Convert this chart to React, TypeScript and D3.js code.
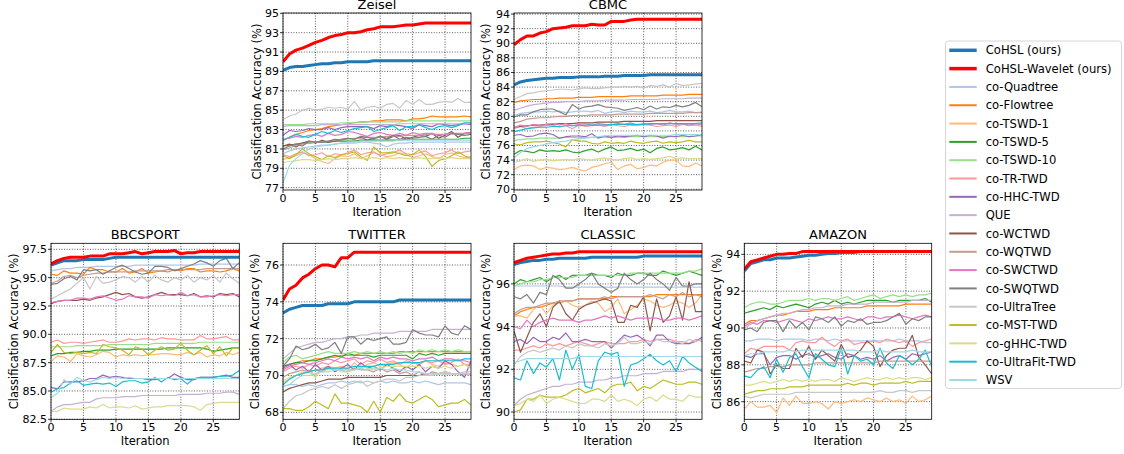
import React from "react";
import * as d3 from "d3";

const SERIES = [
  "CoHSL (ours)", "CoHSL-Wavelet (ours)", "co-Quadtree", "co-Flowtree", "co-TSWD-1", "co-TSWD-5",
  "co-TSWD-10", "co-TR-TWD", "co-HHC-TWD", "QUE", "co-WCTWD", "co-WQTWD", "co-SWCTWD", "co-SWQTWD",
  "co-UltraTree", "co-MST-TWD", "co-gHHC-TWD", "co-UltraFit-TWD", "WSV",
];
const COLORS = [
  "#1f77b4", "#ff0000", "#aec7e8", "#ff7f0e", "#ffbb78", "#2ca02c", "#98df8a", "#ff9896", "#9467bd",
  "#c5b0d5", "#8c564b", "#c49c94", "#e377c2", "#7f7f7f", "#c7c7c7", "#bcbd22", "#dbdb8d", "#17becf", "#9edae5",
];
const ITERATIONS = d3.range(30);
const X_TICKS = [0, 5, 10, 15, 20, 25];

const zeisel: number[][] = [
  [89.1,89.4,89.5,89.5,89.6,89.7,89.8,89.8,89.9,89.9,90.0,90.0,90.0,90.0,90.1,90.1,90.1,90.1,90.1,90.1,90.1,90.1,90.1,90.1,90.1,90.1,90.1,90.1,90.1,90.1],
  [90.0,90.8,91.2,91.4,91.7,92.0,92.2,92.5,92.7,92.8,93.0,93.0,93.1,93.3,93.4,93.6,93.6,93.6,93.7,93.8,93.8,93.9,94.0,94.0,94.0,94.0,94.0,94.0,94.0,94.0],
  [80.5,80.8,81.0,81.1,81.2,81.3,81.4,81.4,81.5,81.6,81.6,81.6,81.7,81.7,81.6,81.5,81.2,81.5,81.6,81.6,81.7,81.7,81.7,81.7,81.7,81.7,81.7,81.7,81.7,81.7],
  [81.9,82.2,82.5,82.7,82.9,83.0,83.1,83.3,83.4,83.5,83.6,83.7,83.8,83.8,83.9,83.9,84.0,84.0,84.0,83.9,84.1,84.1,84.2,84.4,84.3,84.3,84.3,84.3,84.4,84.3],
  [79.9,80.1,80.3,80.6,80.4,80.0,79.7,79.5,80.0,80.3,80.2,80.5,80.0,80.3,80.6,80.4,80.2,80.3,80.6,80.4,80.1,80.3,80.5,80.2,80.0,80.4,80.6,80.3,80.1,80.2],
  [81.3,81.4,81.5,81.6,81.6,81.7,81.7,81.7,81.8,81.8,81.8,81.8,81.9,81.9,81.9,81.9,81.9,81.9,81.9,82.0,82.0,82.0,82.0,82.0,82.0,82.0,82.0,82.0,82.1,82.1],
  [83.5,83.5,83.5,83.5,83.6,83.6,83.6,83.6,83.6,83.7,83.7,83.7,83.7,83.8,83.8,83.8,83.8,83.8,83.8,83.9,83.9,83.9,83.9,83.9,83.9,83.9,83.9,83.9,83.9,83.9],
  [80.4,80.2,80.5,80.7,80.3,80.4,80.6,80.2,80.5,80.4,80.6,80.9,80.4,80.6,80.7,80.3,80.5,80.6,80.9,80.5,80.4,80.6,80.8,80.3,80.5,80.6,80.9,80.5,80.7,80.8],
  [82.4,82.9,82.8,82.9,83.1,83.0,83.0,83.2,83.0,83.2,83.3,83.3,83.3,83.3,83.1,83.4,83.3,83.5,83.4,83.3,83.1,83.5,83.4,83.3,83.6,83.5,83.4,83.5,83.6,83.5],
  [83.3,83.4,83.4,83.4,83.4,83.4,83.5,83.5,83.5,83.5,83.5,83.5,83.5,83.5,83.5,83.5,83.5,83.5,83.6,83.6,83.6,83.6,83.6,83.6,83.6,83.6,83.6,83.6,83.6,83.6],
  [81.3,81.5,81.2,81.6,81.8,81.6,81.9,81.7,81.8,82.0,82.1,82.0,82.2,81.9,82.1,82.3,82.0,82.3,82.4,82.0,82.2,82.4,82.3,82.6,82.1,82.4,82.8,82.2,82.6,82.7],
  [80.9,81.1,81.4,81.5,81.6,81.7,81.7,81.8,81.9,82.0,82.0,82.1,82.1,82.2,82.2,82.2,82.3,82.3,82.3,82.4,82.4,82.4,82.5,82.5,82.5,82.5,82.6,82.6,82.6,82.6],
  [82.0,82.1,82.3,82.2,82.4,82.5,82.3,82.6,82.4,82.5,82.8,82.7,82.5,82.3,82.6,82.7,82.5,82.4,82.6,82.4,82.7,82.5,82.6,82.6,82.4,82.5,82.6,82.5,82.6,82.7],
  [81.0,81.3,81.5,81.3,81.8,81.7,81.7,81.8,82.0,81.9,82.1,82.0,82.3,82.2,82.0,82.3,82.1,82.4,82.0,82.2,82.1,82.2,82.3,82.0,82.4,82.2,82.6,82.5,82.4,82.5],
  [84.0,84.4,84.6,85.0,85.2,85.0,85.1,85.3,85.2,85.3,85.1,85.9,85.0,85.3,85.4,85.2,85.6,85.7,85.2,86.0,85.6,86.1,85.6,85.6,85.8,85.9,85.8,86.2,85.8,85.8],
  [80.3,80.0,80.4,81.0,80.5,80.2,79.9,80.3,80.1,80.4,80.5,80.7,80.2,79.8,81.2,80.6,80.6,80.7,80.5,80.3,80.4,80.9,80.2,79.2,79.8,80.0,80.3,80.7,80.3,80.0],
  [79.6,79.7,79.8,79.9,79.9,79.8,79.9,80.0,79.9,80.0,80.0,80.1,80.0,80.0,80.1,80.0,80.1,80.0,80.1,80.0,80.0,80.1,80.0,80.0,80.1,80.0,80.1,80.0,80.0,80.0],
  [81.9,82.2,82.5,82.3,82.2,82.5,82.8,82.6,82.9,82.7,82.9,83.1,83.2,83.3,82.8,83.0,83.2,83.4,82.9,83.3,83.3,83.5,83.2,83.0,83.3,83.4,83.2,83.4,83.7,83.7],
  [77.5,79.3,80.0,80.5,81.0,81.2,81.3,81.4,81.5,81.6,81.7,81.7,81.8,81.8,81.8,81.8,81.8,81.8,81.9,81.9,81.9,81.9,81.9,81.9,81.9,81.9,81.9,81.9,81.9,81.9],
];

const cbmc: number[][] = [
  [84.3,84.7,84.9,85.0,85.1,85.2,85.2,85.3,85.3,85.3,85.4,85.4,85.4,85.4,85.5,85.5,85.5,85.6,85.6,85.6,85.6,85.7,85.7,85.7,85.7,85.7,85.7,85.7,85.7,85.7],
  [89.8,90.5,91.0,91.0,91.4,91.6,92.0,92.1,92.2,92.4,92.4,92.4,92.6,92.5,92.5,93.0,93.0,93.0,93.2,93.3,93.3,93.3,93.3,93.3,93.3,93.3,93.3,93.3,93.3,93.3],
  [80.1,80.4,80.5,80.6,80.6,80.7,80.6,80.7,80.5,80.6,80.7,80.7,80.6,80.8,80.4,80.6,80.7,80.5,80.7,80.6,80.6,80.7,80.5,80.6,80.8,80.6,80.6,80.7,80.5,80.6],
  [81.9,82.1,82.2,82.3,82.3,82.4,82.4,82.5,82.5,82.5,82.6,82.6,82.6,82.7,82.7,82.7,82.7,82.7,82.8,82.8,82.8,82.8,82.8,82.9,82.9,82.9,82.9,83.0,83.0,83.0],
  [72.7,73.2,73.3,73.2,72.7,73.0,72.9,72.7,72.8,73.0,72.7,72.5,73.0,73.2,73.5,73.7,72.7,73.2,73.4,72.8,73.0,73.3,73.2,73.7,74.0,74.0,73.2,73.1,73.6,73.2],
  [74.8,75.3,75.2,75.0,75.4,75.2,75.3,75.2,75.4,75.1,75.0,75.3,75.5,75.1,75.5,75.8,75.3,75.4,75.6,75.3,75.5,75.0,75.6,75.8,75.4,75.5,75.7,75.4,75.9,75.4],
  [76.7,76.8,76.9,76.9,77.0,77.0,77.0,77.0,77.1,77.1,77.1,77.1,77.1,77.1,77.1,77.1,77.1,77.1,77.2,77.2,77.2,77.2,77.2,77.2,77.2,77.2,77.2,77.2,77.3,77.3],
  [78.3,78.6,78.3,78.5,78.6,78.7,78.8,78.5,78.7,78.3,78.8,78.6,78.7,78.8,78.6,78.9,78.7,78.6,78.8,78.7,78.9,78.8,78.6,78.7,78.8,78.6,78.9,78.7,78.8,78.6],
  [77.4,77.5,77.2,77.3,77.6,77.7,77.5,77.0,77.2,77.3,77.3,77.2,77.6,77.0,77.3,77.1,77.3,77.2,77.3,77.4,77.2,77.4,77.3,77.0,77.3,77.2,77.4,77.2,77.3,77.5],
  [80.8,81.1,81.4,81.6,81.7,81.8,81.9,81.9,82.0,82.0,82.0,82.1,82.1,82.1,82.2,82.2,82.2,82.2,82.3,82.3,82.3,82.3,82.3,82.4,82.4,82.4,82.4,82.5,82.5,82.5],
  [78.5,78.6,78.7,78.8,78.8,78.9,78.9,79.0,79.0,79.0,79.1,79.1,79.1,79.2,79.2,79.2,79.2,79.3,79.3,79.3,79.3,79.3,79.4,79.4,79.4,79.4,79.4,79.4,79.4,79.4],
  [79.1,79.3,79.6,79.7,79.8,79.8,79.9,80.0,80.0,80.1,80.1,80.1,80.2,80.2,80.2,80.2,80.3,80.3,80.3,80.3,80.3,80.4,80.4,80.4,80.4,80.4,80.4,80.5,80.5,80.5],
  [78.4,78.8,78.6,78.9,78.7,78.9,79.0,78.8,79.0,78.7,78.9,79.0,78.8,79.0,78.9,78.8,79.0,78.9,79.1,78.8,79.0,78.9,79.0,78.8,79.1,78.9,79.0,78.8,79.0,78.8],
  [79.9,80.2,80.2,80.6,80.9,81.0,81.0,80.6,80.2,81.6,81.0,81.3,81.4,81.6,81.3,81.2,81.1,80.8,81.0,81.2,80.9,81.4,81.0,81.3,81.2,81.5,81.3,81.5,81.9,81.3],
  [82.3,82.7,83.1,83.2,83.4,83.5,83.6,83.7,83.7,83.6,83.8,83.9,83.8,83.8,83.9,84.0,84.0,84.1,84.0,84.1,83.9,84.2,84.1,84.3,84.0,84.5,84.2,84.3,84.4,84.5],
  [76.2,76.1,76.4,76.5,76.5,76.6,76.4,76.2,75.8,76.8,76.6,76.6,76.3,76.2,76.5,76.3,76.4,76.3,76.6,76.4,76.3,76.5,76.6,76.3,76.5,76.4,76.5,76.7,76.5,76.5],
  [73.7,73.9,74.2,73.8,74.0,74.1,73.9,74.0,74.1,74.0,74.2,74.1,74.0,74.2,74.3,74.1,74.0,74.2,74.3,74.1,74.2,74.1,74.2,74.3,74.5,74.2,74.3,74.2,74.2,74.2],
  [77.9,78.1,78.3,78.4,78.5,78.5,78.6,78.6,78.7,78.7,78.7,78.8,78.8,78.8,78.8,78.9,78.9,78.9,78.9,78.9,78.9,79.0,79.0,79.0,79.0,79.0,79.0,79.0,79.0,79.1],
  [74.3,75.0,75.6,75.8,76.0,76.2,76.4,76.5,76.6,76.8,76.9,77.0,77.1,77.2,77.3,77.4,77.4,77.4,77.4,77.4,77.4,77.4,77.4,77.4,77.4,77.5,77.5,77.5,77.5,77.5],
];

const bbcsport: number[][] = [
  [96.1,96.3,96.5,96.5,96.5,96.6,96.6,96.6,96.6,96.7,96.8,96.8,96.8,96.8,96.8,96.8,96.8,96.8,96.8,96.8,96.8,96.8,96.8,96.8,96.8,96.8,96.8,96.8,96.8,96.8],
  [96.2,96.5,96.7,96.8,96.8,96.8,96.9,96.9,96.9,97.1,97.1,97.1,97.2,97.3,97.1,97.2,97.3,97.3,97.3,97.4,97.1,97.2,97.2,97.3,97.3,97.3,97.3,97.3,97.3,97.3],
  [95.6,95.7,95.8,95.8,95.9,95.9,95.9,96.0,96.0,96.0,96.0,96.0,96.0,96.1,96.1,96.1,96.1,96.1,96.1,96.1,96.1,96.1,96.1,96.2,96.2,96.2,96.2,96.2,96.2,96.2],
  [95.3,95.2,95.6,95.4,95.4,95.3,95.9,95.7,95.7,95.5,95.5,95.8,95.4,95.5,95.8,95.4,95.5,95.6,95.5,95.7,95.6,95.8,95.8,95.5,95.6,95.6,95.5,95.6,95.8,95.6],
  [87.6,88.1,88.0,87.6,88.3,88.1,88.0,88.2,88.5,88.4,88.0,88.2,88.1,88.2,88.1,88.2,88.2,88.3,88.3,88.2,88.2,88.4,88.2,88.4,88.0,88.2,88.1,88.4,88.2,88.4],
  [88.1,88.3,88.3,88.4,88.4,88.5,88.5,88.6,88.6,88.6,88.7,88.7,88.7,88.7,88.7,88.7,88.7,88.7,88.8,88.8,88.8,88.8,88.8,88.8,88.7,88.5,88.6,88.7,88.8,88.8],
  [88.9,88.9,88.9,88.9,89.0,89.0,89.0,89.0,89.0,89.1,89.1,89.1,89.1,89.1,89.1,89.1,89.2,89.2,89.2,89.2,89.2,89.2,89.2,89.3,89.3,89.3,89.3,89.3,89.3,89.3],
  [89.3,89.5,89.2,89.3,89.3,89.2,89.3,89.4,89.5,89.3,89.3,89.4,89.6,89.5,89.6,89.6,89.5,89.7,89.6,89.6,89.5,89.5,89.5,89.9,89.6,89.6,89.7,89.8,89.5,89.5],
  [85.3,85.2,85.8,85.8,85.8,85.9,86.1,86.1,86.4,86.2,86.3,86.2,86.1,86.1,86.1,86.0,86.0,86.1,86.1,86.5,86.2,86.0,86.0,86.2,86.2,86.2,86.3,86.4,86.2,86.2],
  [83.2,83.6,83.8,83.8,83.9,84.0,84.0,84.3,84.4,84.4,84.4,84.5,84.5,84.5,84.6,84.6,84.6,84.6,84.6,84.6,84.7,84.7,84.7,84.7,84.8,84.8,84.8,84.9,84.9,84.7],
  [92.7,92.9,93.0,93.0,93.0,93.1,93.0,93.2,93.3,93.5,93.7,93.5,93.6,93.3,93.2,93.3,93.5,93.7,93.5,93.5,93.5,93.4,93.6,93.3,93.4,93.3,93.6,93.5,93.6,93.3],
  [94.5,94.7,95.1,95.2,95.0,95.2,95.3,95.4,95.4,95.5,95.5,95.5,95.5,95.6,95.6,95.6,95.6,95.6,95.7,95.7,95.7,95.7,95.7,95.7,95.8,95.8,95.8,95.8,95.8,95.8],
  [92.8,92.9,93.0,93.0,93.2,93.2,93.1,93.3,93.4,93.2,93.0,93.1,93.4,93.3,93.3,93.2,93.5,93.4,93.5,93.4,93.7,93.4,93.5,93.3,93.3,93.4,93.5,93.4,93.5,93.5],
  [94.4,94.5,94.9,95.1,94.8,95.7,95.6,95.7,95.3,95.6,95.9,96.1,95.8,95.5,95.3,95.4,96.0,96.0,95.9,95.6,95.8,96.0,96.2,96.5,96.3,96.0,96.5,96.7,95.8,96.3],
  [93.1,93.4,93.7,94.0,94.5,95.0,94.0,95.1,94.5,94.6,94.8,95.1,95.0,94.6,95.1,94.6,95.2,94.8,94.6,95.0,94.8,95.2,94.6,95.0,94.8,95.2,94.6,95.4,94.9,94.5],
  [88.4,89.1,88.4,88.3,88.4,88.3,88.4,88.3,89.1,88.9,88.8,88.6,88.2,88.9,88.7,88.2,88.6,88.9,88.6,88.7,89.2,88.6,88.2,88.6,89.0,88.3,88.9,88.1,88.8,88.8],
  [83.2,83.2,83.5,83.4,83.4,83.4,83.6,83.5,83.8,83.5,83.6,83.6,83.5,83.7,83.4,83.5,83.6,83.6,83.7,83.7,83.7,83.7,83.6,83.3,83.8,83.9,84.0,84.0,84.0,84.0],
  [84.9,85.2,85.3,85.7,85.9,85.5,85.6,85.7,85.6,85.7,85.4,85.8,85.9,85.9,85.7,85.8,86.2,85.8,86.2,86.0,86.1,85.6,86.1,86.2,86.2,86.2,86.3,86.3,86.4,86.8],
  [84.4,84.8,86.0,85.6,86.2,85.9,85.8,86.0,86.2,86.1,86.2,86.1,86.2,86.1,86.1,86.1,86.1,86.1,86.1,86.1,86.1,86.1,86.1,86.1,86.1,86.1,86.1,86.1,86.1,86.1],
];

const twitter: number[][] = [
  [73.4,73.6,73.7,73.8,73.8,73.8,73.8,73.9,73.9,73.9,73.9,74.0,74.0,74.0,74.0,74.0,74.0,74.0,74.1,74.1,74.1,74.1,74.1,74.1,74.1,74.1,74.1,74.1,74.1,74.1],
  [74.1,74.7,74.9,75.3,75.5,75.8,76.0,76.0,75.9,76.4,76.4,76.7,76.7,76.7,76.7,76.7,76.7,76.7,76.7,76.7,76.7,76.7,76.7,76.7,76.7,76.7,76.7,76.7,76.7,76.7],
  [69.4,69.5,69.5,69.4,69.5,69.4,69.5,69.6,69.6,69.7,69.6,69.7,69.6,69.7,69.6,69.7,69.6,69.7,69.6,69.6,69.7,69.6,69.7,69.6,69.5,69.6,69.6,69.6,69.6,69.5],
  [70.5,70.6,70.7,70.8,70.8,70.9,70.9,71.0,71.0,71.1,71.1,71.1,71.2,71.2,71.2,71.2,71.2,71.2,71.3,71.3,71.3,71.3,71.3,71.3,71.3,71.3,71.3,71.3,71.3,71.3],
  [69.6,69.8,70.0,70.1,70.3,70.0,70.4,70.5,70.4,70.5,70.3,70.7,70.4,70.6,70.7,70.5,70.6,70.7,70.6,70.4,70.7,70.6,70.8,70.6,70.5,70.7,70.6,70.5,70.6,70.6],
  [70.5,70.6,70.7,70.7,70.8,70.8,70.9,71.0,71.1,71.0,71.2,71.1,71.1,71.1,71.0,71.1,71.1,71.1,71.1,71.1,70.9,71.2,71.1,71.2,71.1,71.2,71.2,71.2,71.2,71.2],
  [70.7,71.0,71.1,70.9,71.0,71.1,71.2,71.3,71.2,71.2,71.2,71.3,71.2,71.3,71.2,71.3,71.2,71.3,71.2,71.3,71.2,71.4,71.3,71.4,71.3,71.4,71.3,71.4,71.3,71.3],
  [70.2,70.4,70.5,70.4,70.6,70.5,70.7,70.6,70.8,70.7,70.8,70.9,70.6,70.8,70.7,70.9,70.7,70.8,70.6,70.8,70.7,70.6,70.8,70.7,70.8,70.6,70.7,70.9,70.6,70.5],
  [70.4,70.6,70.3,70.5,70.2,70.6,70.3,70.5,70.2,70.4,70.6,70.3,70.7,70.4,70.5,70.3,70.6,70.4,70.2,70.5,70.3,70.6,70.2,70.5,70.4,70.8,70.6,70.2,69.9,70.8],
  [70.9,71.2,71.5,71.6,71.7,71.8,71.8,71.9,72.0,72.0,72.1,72.1,72.2,72.2,72.3,72.3,72.3,72.3,72.4,72.4,72.4,72.4,72.4,72.5,72.5,72.5,72.5,72.5,72.5,72.5],
  [69.1,69.3,69.4,69.5,69.6,69.6,69.7,69.8,69.8,69.8,69.9,69.9,69.9,69.9,69.9,69.9,70.0,70.0,70.0,70.0,70.0,70.0,70.1,70.1,70.1,70.1,70.1,70.1,70.1,70.1],
  [69.9,70.1,70.2,70.3,70.2,70.3,70.2,70.4,70.3,70.3,70.2,70.4,70.3,70.3,70.2,70.4,70.2,70.3,70.1,70.2,70.0,70.2,70.0,70.2,70.1,70.2,70.1,70.1,70.1,70.1],
  [70.3,70.5,70.6,70.7,70.6,70.7,70.8,70.9,70.8,71.0,70.9,71.0,70.9,71.0,70.8,71.0,70.9,71.0,70.9,70.9,70.8,70.9,70.9,71.0,70.8,70.9,70.9,70.8,70.8,70.7],
  [70.5,70.9,71.6,71.4,71.5,71.7,71.4,71.5,71.8,71.2,72.1,72.1,71.7,72.0,71.9,72.0,72.1,71.7,71.7,71.8,72.5,72.3,72.2,72.2,72.1,72.7,72.3,72.2,72.7,72.5],
  [68.2,68.6,68.9,69.0,69.2,69.3,69.4,69.3,69.5,69.3,69.5,69.6,69.7,69.4,69.6,69.7,69.8,69.8,69.7,69.9,69.9,70.0,70.0,70.0,70.1,70.2,70.1,70.1,70.2,70.2],
  [68.2,68.2,68.1,68.1,68.3,68.6,68.4,68.2,69.0,68.5,68.5,68.4,68.3,68.0,68.6,68.0,68.8,68.6,69.0,68.6,68.5,68.7,68.9,68.7,68.3,68.4,68.5,68.5,68.7,68.4],
  [69.7,69.9,70.0,70.2,70.2,69.9,70.3,70.3,70.4,70.2,70.2,70.3,70.5,70.4,70.3,70.4,70.5,70.5,70.5,70.5,70.5,70.5,70.4,70.5,70.4,70.5,70.4,70.5,70.6,70.4],
  [69.5,69.8,70.0,70.1,70.2,70.3,70.3,70.4,70.4,70.4,70.4,70.5,70.5,70.5,70.5,70.6,70.6,70.6,70.7,70.7,70.7,70.7,70.8,70.8,70.8,70.8,70.8,70.8,70.9,70.9],
  [69.4,69.5,69.8,70.0,70.0,70.1,70.2,70.2,70.3,70.3,70.3,70.3,70.4,70.3,70.4,70.4,70.3,70.4,70.3,70.3,70.2,70.2,70.1,70.1,70.1,70.1,70.1,70.1,70.1,70.1],
];

const classic: number[][] = [
  [96.9,97.0,97.05,97.1,97.1,97.15,97.15,97.2,97.2,97.2,97.2,97.2,97.25,97.25,97.25,97.25,97.25,97.25,97.25,97.25,97.3,97.3,97.3,97.3,97.3,97.3,97.3,97.3,97.3,97.3],
  [97.0,97.1,97.2,97.25,97.3,97.35,97.4,97.4,97.45,97.45,97.5,97.5,97.5,97.5,97.5,97.5,97.5,97.5,97.5,97.5,97.5,97.5,97.5,97.5,97.5,97.5,97.5,97.5,97.5,97.5],
  [95.9,95.9,95.9,95.9,95.9,95.9,95.9,95.9,95.85,95.85,95.85,95.85,95.85,95.85,95.85,95.85,95.85,95.85,95.85,95.85,95.85,95.85,95.85,95.85,95.85,95.85,95.85,95.85,95.85,95.85],
  [94.5,94.7,94.8,94.9,94.9,95.0,95.1,95.1,95.2,95.2,95.3,95.3,95.3,95.3,95.3,95.4,95.4,95.4,95.4,95.4,95.4,95.4,95.5,95.5,95.5,95.5,95.5,95.5,95.5,95.5],
  [94.5,94.5,94.4,94.8,95.0,94.6,95.0,95.1,95.2,95.0,94.9,95.0,95.2,95.1,94.7,94.9,95.3,94.6,94.8,95.0,95.3,95.2,95.0,94.9,95.0,95.2,95.1,94.9,95.1,95.5],
  [96.0,96.2,96.1,96.2,96.3,96.1,96.3,96.4,96.2,96.4,96.4,96.4,96.5,96.4,96.4,96.3,96.5,96.4,96.4,96.5,96.5,96.4,96.4,96.6,96.5,96.4,96.5,96.6,96.5,96.4],
  [95.9,96.0,96.1,96.1,96.2,96.2,96.3,96.3,96.3,96.3,96.4,96.4,96.4,96.4,96.4,96.4,96.4,96.4,96.5,96.5,96.5,96.5,96.5,96.5,96.5,96.5,96.5,96.6,96.6,96.7],
  [92.9,92.9,93.0,93.1,93.0,93.2,93.1,93.2,93.1,93.2,93.3,93.2,93.1,93.2,93.3,93.2,93.2,93.2,93.3,93.3,93.4,93.3,93.4,93.4,93.4,93.3,93.3,93.2,93.4,93.3],
  [93.3,93.4,93.2,93.5,93.3,93.3,93.5,93.4,93.7,93.3,93.3,93.4,93.3,93.3,93.3,93.0,93.3,93.6,93.5,93.6,93.4,93.1,93.6,93.6,93.3,93.2,93.2,93.2,93.3,93.5],
  [90.3,90.6,90.8,90.9,91.0,91.1,91.2,91.2,91.3,91.3,91.4,91.4,91.4,91.5,91.5,91.6,91.6,91.7,91.7,91.7,91.8,91.8,91.8,91.9,91.9,91.9,91.9,92.0,92.0,92.0],
  [93.8,92.8,93.5,94.2,94.6,94.0,94.9,95.2,94.6,94.3,94.8,95.0,95.1,95.2,95.3,95.2,94.2,94.2,95.0,94.9,95.4,93.8,95.3,94.2,94.5,95.4,94.3,96.1,94.7,94.7],
  [94.6,94.8,94.9,94.9,95.0,95.1,95.1,95.2,95.2,95.2,95.3,95.3,95.3,95.3,95.4,95.3,95.4,95.4,95.4,95.4,95.4,95.5,95.4,95.3,95.5,95.4,95.6,95.4,95.5,95.4],
  [94.0,93.9,94.3,94.0,94.2,94.3,94.4,94.3,94.3,94.3,94.2,94.3,94.3,94.4,94.5,94.4,94.5,94.4,94.3,94.4,94.4,94.4,94.4,94.3,94.3,94.4,94.4,94.3,94.4,94.5],
  [95.4,95.3,95.5,95.1,95.6,95.5,96.4,96.2,95.8,95.8,96.0,96.2,96.5,96.0,95.8,95.6,95.8,96.5,96.2,96.0,96.2,96.5,96.2,96.0,95.7,96.3,95.9,95.9,96.0,96.0],
  [92.2,92.6,92.8,92.9,92.8,92.9,93.0,92.9,93.1,93.0,93.2,93.1,93.1,93.0,93.2,93.1,93.2,93.5,93.2,93.2,93.3,93.2,93.4,93.3,93.3,93.3,93.2,93.4,93.3,93.4],
  [90.0,90.1,90.6,90.6,90.8,90.7,90.7,90.7,90.8,91.0,91.1,90.9,91.0,91.1,90.9,91.2,91.3,91.3,91.4,91.0,91.2,91.1,91.3,91.5,91.4,91.3,91.3,91.4,91.4,91.3],
  [90.3,90.4,90.6,90.5,90.8,90.4,90.6,90.7,90.6,90.5,90.4,90.4,90.6,90.6,90.5,90.8,90.5,90.6,90.5,90.3,90.6,90.7,90.5,90.8,90.6,90.6,90.5,90.8,90.7,90.7],
  [91.6,91.5,92.4,91.8,92.3,92.1,92.5,91.5,92.9,92.0,92.7,91.2,91.1,92.4,92.8,92.7,92.8,91.2,92.2,92.3,92.5,92.7,92.4,92.2,92.4,91.9,92.6,92.3,92.1,91.9],
  [92.3,92.4,92.5,92.5,92.5,92.5,92.5,92.5,92.5,92.5,92.6,92.6,92.6,92.6,92.6,92.6,92.6,92.6,92.6,92.6,92.6,92.6,92.6,92.6,92.6,92.6,92.6,92.6,92.6,92.6],
];

const amazon: number[][] = [
  [93.1,93.5,93.6,93.7,93.7,93.8,93.8,93.8,93.85,93.9,93.95,93.95,94.0,94.05,94.05,94.1,94.1,94.1,94.15,94.15,94.15,94.15,94.15,94.15,94.15,94.15,94.15,94.15,94.15,94.15],
  [93.2,93.6,93.7,93.8,93.9,94.0,94.0,94.05,94.05,94.15,94.15,94.15,94.15,94.15,94.15,94.15,94.15,94.15,94.15,94.15,94.15,94.15,94.15,94.15,94.15,94.15,94.15,94.15,94.15,94.15],
  [89.3,89.3,89.4,89.4,89.4,89.3,89.4,89.4,89.4,89.4,89.3,89.4,89.4,89.3,89.4,89.3,89.3,89.3,89.3,89.3,89.3,89.3,89.3,89.3,89.4,89.3,89.3,89.3,89.2,89.2],
  [90.2,90.4,90.4,90.5,90.6,90.7,90.7,90.8,90.9,90.9,90.9,91.0,91.0,91.0,91.1,91.1,91.1,91.1,91.1,91.2,91.2,91.2,91.2,91.2,91.2,91.3,91.3,91.3,91.3,91.3],
  [85.6,86.0,85.7,85.7,85.8,85.4,86.2,85.8,86.3,85.9,85.9,86.0,85.9,85.6,86.0,85.9,86.0,86.1,86.0,86.2,86.1,86.0,86.2,86.0,86.1,85.9,86.3,86.0,86.1,86.3],
  [90.8,90.9,91.0,91.1,91.0,91.2,91.1,91.2,91.3,91.2,91.1,91.3,91.4,91.3,91.5,91.3,91.4,91.3,91.4,91.5,91.5,91.5,91.5,91.4,91.5,91.5,91.5,91.5,91.6,91.4],
  [91.1,91.3,91.4,91.4,91.3,91.3,91.4,91.5,91.5,91.5,91.6,91.5,91.6,91.6,91.5,91.6,91.7,91.5,91.6,91.7,91.8,91.6,91.7,91.8,91.7,91.8,91.7,91.8,91.8,91.9],
  [88.6,88.9,88.8,89.0,89.0,89.0,89.0,88.8,89.2,89.3,89.2,89.2,89.5,89.2,89.0,89.3,89.4,89.1,89.2,89.2,89.3,89.2,89.4,89.3,89.2,89.3,89.0,89.2,89.3,89.4],
  [88.5,88.4,88.6,88.6,88.0,88.4,88.5,88.5,88.3,88.5,88.6,88.4,88.5,88.6,88.4,88.3,88.6,88.5,88.3,88.4,88.3,88.5,88.2,88.4,88.5,88.3,88.6,88.5,88.6,88.7],
  [90.0,90.2,90.4,90.5,90.6,90.7,90.8,90.8,90.9,91.0,91.0,91.1,91.1,91.2,91.2,91.2,91.3,91.3,91.3,91.3,91.4,91.4,91.4,91.4,91.4,91.4,91.5,91.5,91.5,91.5],
  [88.2,88.1,88.8,88.7,87.5,88.0,87.8,87.8,88.9,88.4,89.0,88.3,88.8,88.5,88.2,89.1,88.4,88.5,88.8,89.3,89.0,87.9,88.5,88.8,88.9,88.9,89.6,88.4,88.0,87.5],
  [87.6,87.7,87.8,87.8,87.9,87.9,87.9,88.0,88.0,88.0,88.0,88.1,88.1,88.1,88.1,88.1,88.1,88.1,88.1,88.1,88.1,88.2,88.2,88.2,88.2,88.2,88.2,88.2,88.2,88.2],
  [90.1,90.3,90.2,90.4,90.4,90.3,90.4,90.5,90.4,90.3,90.5,90.4,90.5,90.6,90.5,90.5,90.6,90.5,90.4,90.6,90.6,90.5,90.6,90.6,90.7,90.6,90.5,90.6,90.7,90.6],
  [89.9,90.0,89.8,90.3,90.4,90.4,89.8,90.4,90.0,90.3,89.9,90.6,90.5,90.3,90.6,90.1,90.4,90.3,90.5,90.2,90.3,90.3,90.4,90.6,90.8,90.2,90.5,90.4,90.6,90.6],
  [86.3,86.2,86.3,86.4,86.4,86.4,86.4,86.4,86.5,86.5,86.5,86.5,86.5,86.5,86.5,86.5,86.5,86.5,86.5,86.5,86.5,86.6,86.5,86.5,86.6,86.6,86.5,86.6,86.6,86.6],
  [86.4,86.5,86.6,86.6,86.7,86.7,86.7,86.8,86.8,86.8,86.9,86.9,86.9,86.9,86.9,86.9,87.0,86.9,87.0,87.0,86.9,87.0,87.0,87.0,87.0,87.1,87.0,87.1,87.1,87.1],
  [86.9,86.9,87.0,87.1,87.0,87.1,87.2,87.1,87.2,87.1,87.2,87.1,87.2,87.2,87.1,87.3,87.2,87.1,87.2,87.3,87.2,87.2,87.3,87.2,87.3,87.2,87.3,87.3,87.2,87.3],
  [87.4,87.3,87.7,87.9,87.3,88.3,87.6,88.4,88.6,87.9,87.3,88.6,88.3,88.0,87.9,88.9,87.5,88.5,88.2,88.3,88.0,88.9,88.1,87.8,88.5,88.3,88.0,88.3,88.8,87.9],
  [88.5,88.6,88.6,88.7,88.7,88.7,88.7,88.8,88.7,88.8,88.8,88.8,88.8,88.8,88.8,88.8,88.8,88.8,88.7,88.7,88.7,88.8,88.7,88.7,88.7,88.7,88.8,88.7,88.7,88.7],
];

const ZEISEL_TICKS = [77, 79, 81, 83, 85, 87, 89, 91, 93, 95];
const CBMC_TICKS = [70, 72, 74, 76, 78, 80, 82, 84, 86, 88, 90, 92, 94];
const BBCSPORT_TICKS = [82.5, 85.0, 87.5, 90.0, 92.5, 95.0, 97.5];
const TWITTER_TICKS = [68, 70, 72, 74, 76];
const CLASSIC_TICKS = [90, 92, 94, 96];
const AMAZON_TICKS = [86, 88, 90, 92, 94];

const PANELS = [
  { title: "Zeisel", data: zeisel, ticks: ZEISEL_TICKS, dec: 0, dom: [76.76, 95.03], box: [283, 13, 471, 190], yl: 22 },
  { title: "CBMC", data: cbmc, ticks: CBMC_TICKS, dec: 0, dom: [69.9, 94.15], box: [514, 13, 702, 190], yl: 24 },
  { title: "BBCSPORT", data: bbcsport, ticks: BBCSPORT_TICKS, dec: 1, dom: [82.5, 98.03], box: [51, 243.3, 239.3, 419.3], yl: 33 },
  { title: "TWITTER", data: twitter, ticks: TWITTER_TICKS, dec: 0, dom: [67.62, 77.18], box: [283, 243.3, 471, 419.3], yl: 24 },
  { title: "CLASSIC", data: classic, ticks: CLASSIC_TICKS, dec: 0, dom: [89.66, 97.9], box: [514, 243.3, 702, 419.3], yl: 24 },
  { title: "AMAZON", data: amazon, ticks: AMAZON_TICKS, dec: 0, dom: [85.04, 94.6], box: [744.3, 243.3, 931.7, 419.3], yl: 23.5 },
];

const FONT = "DejaVu Sans, Liberation Sans, sans-serif";

function Panel({ p, idx }: { p: any; idx: number }) {
  const [x0, y0, x1, y1] = p.box;
  const x = d3.scaleLinear().domain([0, 29]).range([x0, x1]);
  const y = d3.scaleLinear().domain(p.dom).range([y1, y0]);
  const line = d3.line<number>().x((_, i) => x(ITERATIONS[i])).y((v) => y(v));
  const clipId = `clip${idx}`;
  const order = d3.range(SERIES.length).filter((i) => i > 1).concat([0, 1]);
  return (
    <g>
      <clipPath id={clipId}>
        <rect x={x0} y={y0} width={x1 - x0} height={y1 - y0} />
      </clipPath>
      {X_TICKS.map((t) => (
        <line key={"gx" + t} x1={x(t)} x2={x(t)} y1={y0} y2={y1} stroke="#333" strokeWidth={0.8} strokeDasharray="1,1.6" />
      ))}
      {p.ticks.map((t: number) => (
        <line key={"gy" + t} x1={x0} x2={x1} y1={y(t)} y2={y(t)} stroke="#333" strokeWidth={0.8} strokeDasharray="1,1.6" />
      ))}
      <g clipPath={`url(#${clipId})`}>
        {order.map((i) => (
          <path key={i} d={line(p.data[i]) || ""} fill="none" stroke={COLORS[i]}
            strokeWidth={i < 2 ? 3 : 1.2} strokeLinejoin="round" />
        ))}
      </g>
      <rect x={x0} y={y0} width={x1 - x0} height={y1 - y0} fill="none" stroke="#000" strokeWidth={0.8} />
      {X_TICKS.map((t) => (
        <g key={"tx" + t}>
          <line x1={x(t)} x2={x(t)} y1={y1} y2={y1 + 3} stroke="#000" strokeWidth={0.8} />
          <text x={x(t)} y={y1 + 12} textAnchor="middle" fontSize={11} fontFamily={FONT}>{t}</text>
        </g>
      ))}
      {p.ticks.map((t: number) => (
        <g key={"ty" + t}>
          <line x1={x0 - 3} x2={x0} y1={y(t)} y2={y(t)} stroke="#000" strokeWidth={0.8} />
          <text x={x0 - 4} y={y(t)} dy="0.36em" textAnchor="end" fontSize={11} fontFamily={FONT}>{t.toFixed(p.dec)}</text>
        </g>
      ))}
      <text x={(x0 + x1) / 2} y={y0 - 4} textAnchor="middle" fontSize={13} fontFamily={FONT}>{p.title}</text>
      <text x={(x0 + x1) / 2} y={y1 + 26} textAnchor="middle" fontSize={11.5} fontFamily={FONT}>Iteration</text>
      <text transform={`translate(${x0 - p.yl},${(y0 + y1) / 2}) rotate(-90)`} textAnchor="middle" fontSize={11.5} fontFamily={FONT}>
        Classification Accuracy (%)
      </text>
    </g>
  );
}

function Legend() {
  const lx = 945.5, ly = 41, lw = 176, lh = 347.5;
  const rowY = d3.scaleLinear().domain([0, SERIES.length - 1]).range([50.3, 380]);
  return (
    <g>
      <rect x={lx} y={ly} width={lw} height={lh} rx={3} fill="#fff" stroke="#cccccc" strokeWidth={0.8} />
      {SERIES.map((s, i) => (
        <g key={s}>
          <line x1={949.3} x2={976.7} y1={rowY(i)} y2={rowY(i)} stroke={COLORS[i]} strokeWidth={i < 2 ? 3.5 : 2} />
          <text x={985.7} y={rowY(i)} dy="0.36em" fontSize={11.6} fontFamily={FONT}>{s}</text>
        </g>
      ))}
    </g>
  );
}

export default function App() {
  return (
    <div style={{ position: "absolute", left: 0, top: 0 }}>
      <svg width={1124} height={454} style={{ display: "block", background: "#fff" }}>
        {PANELS.map((p, i) => (
          <Panel key={p.title} p={p} idx={i} />
        ))}
        <Legend />
      </svg>
    </div>
  );
}
